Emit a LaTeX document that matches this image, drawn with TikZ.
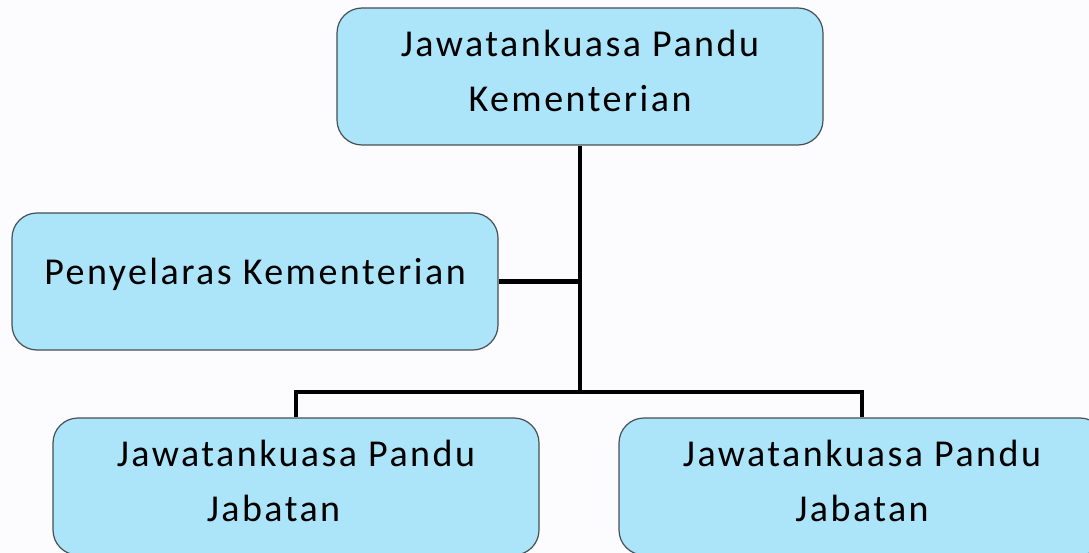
\documentclass[tikz,border=0pt]{standalone}
\usepackage{fontspec}
\setmainfont{Carlito}[LetterSpace=6.5]
\usetikzlibrary{positioning}

\definecolor{boxblue}{RGB}{172,228,250}
\definecolor{boxline}{RGB}{70,80,85}
\definecolor{paper}{RGB}{252,252,254}

\begin{document}
\begin{tikzpicture}[x=1pt, y=-1pt,
	unitbox/.style={draw=boxline, line width=1.2pt, fill=boxblue, rounded corners=25pt,
		minimum width=486pt, minimum height=137pt, align=center,
		font=\fontsize{38}{55}\selectfont, text depth=12pt},
	link/.style={line width=4pt}]

		% page size
		\fill[paper] (0,0) rectangle (1089,553);
		\useasboundingbox (0,0) rectangle (1089,553);
		\clip (0,0) rectangle (1089,553);

        % the boxes
        \node[unitbox] (top) at (580,76.5) {Jawatankuasa Pandu\\Kementerian};
        \node[unitbox, text depth=0pt] (left) at (255,281.5) {Penyelaras Kementerian\\[-34pt]\strut};
        \node[unitbox] (jab1) at (296,486.5) {Jawatankuasa Pandu\\Jabatan\hspace*{45pt}};
        \node[unitbox] (jab2) at (862,486.5) {Jawatankuasa Pandu\\Jabatan};

        % the lines between them
        \coordinate (split) at (580,392);
        \draw[link] (top.south) -- (split);
        \draw[link] (left.east) -- (left.east -| top.south);
        \draw[link] (jab1.north) |- (split) -| (jab2.north);

	\end{tikzpicture}
\end{document}
